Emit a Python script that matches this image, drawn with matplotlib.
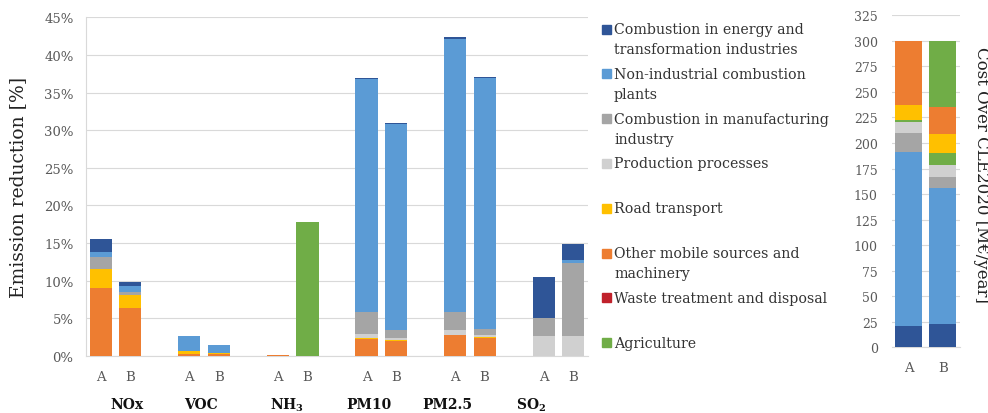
import matplotlib
matplotlib.use('Agg')
import matplotlib.pyplot as plt
from matplotlib.patches import Rectangle
from matplotlib.transforms import blended_transform_factory
import numpy as np

plt.rcParams['font.family'] = 'DejaVu Serif'
plt.rcParams['mathtext.fontset'] = 'dejavuserif'

# pollutants, each with scenario A and B
pollutants = ['NOx', 'VOC', r'NH$_\mathbf{3}$', 'PM10', 'PM2.5', r'SO$_\mathbf{2}$']
scenarios = ['A', 'B']

sector_names = [
    'Combustion in energy and\ntransformation industries',
    'Non-industrial combustion\nplants',
    'Combustion in manufacturing\nindustry',
    'Production processes',
    'Road transport',
    'Other mobile sources and\nmachinery',
    'Waste treatment and disposal',
    'Agriculture',
]
sector_colors = ['#2f5597', '#5b9bd5', '#a5a5a5', '#d0d0d0',
                 '#ffc000', '#ed7d31', '#c0212b', '#70ad47']

# emission reduction [%], bars ordered NOx A, NOx B, VOC A, VOC B, ... SO2 B
red_energy = [1.75, 0.55, 0, 0, 0, 0, 0.2, 0.2, 0.2, 0.2, 5.35, 2.15]
red_non_industrial = [0.65, 0.8, 2.1, 1.0, 0, 0, 30.9, 27.4, 36.3, 33.3, 0, 0.35]
red_manufacturing = [1.65, 0.35, 0, 0, 0, 0, 2.9, 1.0, 2.4, 0.75, 2.5, 9.8]
red_production = [0, 0, 0, 0, 0, 0, 0.6, 0.3, 0.6, 0.3, 2.6, 2.6]
red_road = [2.45, 1.7, 0.3, 0.2, 0, 0, 0.15, 0.1, 0.05, 0.15, 0, 0]
red_other_mobile = [9.1, 6.4, 0.3, 0.2, 0.1, 0, 2.2, 2.0, 2.8, 2.4, 0, 0]
red_waste = [0, 0, 0, 0, 0, 0, 0, 0, 0, 0, 0, 0]
red_agriculture = [0, 0, 0, 0, 0.05, 17.8, 0, 0, 0, 0, 0, 0]

# cost over CLE2020 [M EUR/year] for A and B
cost_energy = [21, 23]
cost_non_industrial = [170, 132.5]
cost_manufacturing = [18.5, 11.5]
cost_production = [11, 11]
cost_agriculture_low = [2, 12]
cost_road = [14.5, 19]
cost_other_mobile = [63, 26]
cost_agriculture_high = [0, 65]

GRID = '#d9d9d9'
TICK = '#595959'


def stack_bars(ax, x, layers, width):
    bottom = np.zeros(len(x))
    for values, color in layers:
        values = np.asarray(values, dtype=float)
        ax.bar(x, values, width, bottom=bottom, color=color, linewidth=0, zorder=3)
        bottom += values


def style_axis(ax):
    for side in ['top', 'right']:
        ax.spines[side].set_visible(False)
    ax.spines['bottom'].set_color(GRID)
    ax.spines['left'].set_color(GRID)
    ax.grid(axis='y', color=GRID, linewidth=0.8, zorder=0)
    ax.tick_params(length=0, colors=TICK)


fig = plt.figure(figsize=(9.88, 4.14), dpi=100)

# emission reduction chart
ax = fig.add_axes([0.0870, 0.1377, 0.5081, 0.8181])
x = np.array([3 * g + s for g in range(len(pollutants)) for s in range(len(scenarios))])
c = sector_colors
stack_bars(ax, x, [(red_other_mobile, c[5]), (red_road, c[4]), (red_production, c[3]),
                   (red_manufacturing, c[2]), (red_non_industrial, c[1]),
                   (red_energy, c[0]), (red_waste, c[6]), (red_agriculture, c[7])], 0.75)
ax.set_xlim(-0.5, 16.5)
ax.set_ylim(0, 45)
ax.set_yticks(np.arange(0, 46, 5))
ax.set_yticklabels([f'{v}%' for v in range(0, 46, 5)], fontsize=9.5)
ax.set_xticks(x)
ax.set_xticklabels(scenarios * len(pollutants), fontsize=9.5)
ax.tick_params(axis='y', pad=9)
ax.tick_params(axis='x', pad=10)
style_axis(ax)
ax.set_ylabel('Emission reduction [%]', fontsize=13.5, color='#222222')
ax.yaxis.set_label_coords(-0.118, 0.5)

tr = blended_transform_factory(ax.transData, fig.transFigure)
for name, gx in zip(pollutants, [0.88, 3.39, 6.31, 9.08, 11.74, 14.57]):
    ax.text(gx, 0.022, name, transform=tr, ha='center', va='center',
            fontsize=10, fontweight='bold', color='#111111')

# cost chart
ax2 = fig.add_axes([0.9025, 0.1587, 0.0691, 0.8019])
x2 = np.arange(len(scenarios))
stack_bars(ax2, x2, [(cost_energy, c[0]), (cost_non_industrial, c[1]),
                     (cost_manufacturing, c[2]), (cost_production, c[3]),
                     (cost_agriculture_low, c[7]), (cost_road, c[4]),
                     (cost_other_mobile, c[5]), (cost_agriculture_high, c[7])], 0.79)
ax2.set_xlim(-0.5, 1.5)
ax2.set_ylim(0, 325)
ax2.set_yticks(np.arange(0, 326, 25))
ax2.set_yticklabels([str(v) for v in range(0, 326, 25)], fontsize=9)
ax2.set_xticks(x2)
ax2.set_xticklabels(scenarios, fontsize=9.5)
ax2.tick_params(axis='y', pad=10)
ax2.tick_params(axis='x', pad=10)
style_axis(ax2)
ax2.spines['left'].set_visible(False)
fig.text(0.993, 0.578, 'Cost Over CLE2020 [M€/year]', rotation=270,
         ha='center', va='center', fontsize=12, color='#222222')

# legend drawn by hand so every entry sits on an even pitch
W, H = 988, 414
for i, (label, color) in enumerate(zip(sector_names, sector_colors)):
    yc = 30 + i * 44.8
    fig.patches.append(Rectangle((602 / W, 1 - (yc + 4.5) / H), 9 / W, 9 / H,
                                 transform=fig.transFigure, color=color))
    for k, line in enumerate(label.split('\n')):
        fig.text(614 / W, 1 - (yc + 20 * k) / H, line, ha='left', va='center',
                 fontsize=10.2, color='#333333')

fig.savefig('out.png', dpi=100)
